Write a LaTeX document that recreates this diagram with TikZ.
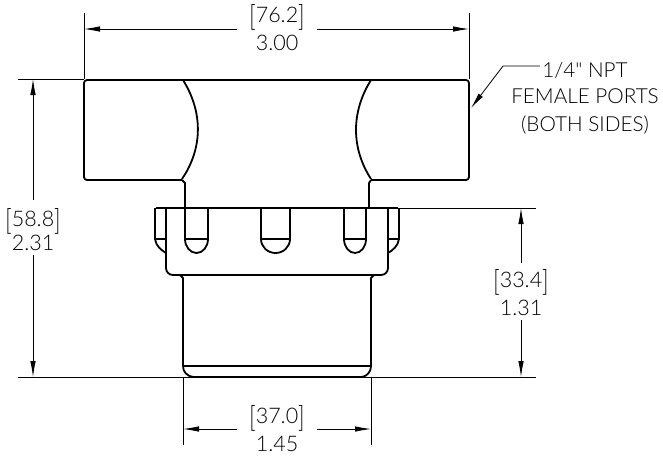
\documentclass[tikz,border=0pt]{standalone}
\usepackage{fontspec}
\setmainfont{Lato}[UprightFont=* Light,Ligatures=TeXOff]
\usetikzlibrary{arrows.meta}
\newcommand{\lbrk}{\raisebox{-0.17em}{\scalebox{1}[1.35]{[}}}
\newcommand{\rbrk}{\raisebox{-0.17em}{\scalebox{1}[1.35]{]}}}
\tikzset{
  part/.style={line width=1.8pt,line join=round},
  thin line/.style={line width=0.8pt},
  dim/.style={thin line,-{Latex[length=16pt,width=5.5pt]}},
  dimtext/.style={font=\fontsize{21.5}{21.5}\selectfont,inner sep=0pt},
  notetext/.style={font=\fontsize{20.7}{20.7}\selectfont,inner sep=0pt}
}
\begin{document}
\begin{tikzpicture}[x=1pt,y=-1pt]
\useasboundingbox (0,0) rectangle (663,456);
\coordinate (TL) at (84,79);
\coordinate (TR) at (469,79);
\coordinate (BL) at (183,377);
\coordinate (BR) at (371,377);
\coordinate (CR) at (398,208);
\coordinate (LD) at (540,66);
\node[dimtext] (wmm) at (277,17) {\lbrk76.2\rbrk};
\node[dimtext] (win) at (277,43) {3.00};
\node[dimtext] (hmm) at (33,221) {\lbrk58.8\rbrk};
\node[dimtext] (hin) at (33,243) {2.31};
\node[dimtext] (cmm) at (521,282) {\lbrk33.4\rbrk};
\node[dimtext] (cin) at (521,308) {1.31};
\node[dimtext] (dmm) at (277,418) {\lbrk37.0\rbrk};
\node[dimtext] (din) at (277,444) {1.45};
\node[notetext] (npt) at (585,70) {1/4" NPT};
\node[notetext] (fem) at (585,96) {FEMALE PORTS};
\node[notetext] (both) at (585,125) {(BOTH SIDES)};
% block
\draw[part,rounded corners=3] (183,80) -- (84,80) -- (84,180) -- (182,180);
\draw[part,rounded corners=3] (371,80) -- (469,80) -- (469,180) -- (371,180);
\draw[part] (183,80) -- (371,80);
\draw[part] (183,80) .. controls (203,112) and (203,148) .. (182,179);
\draw[part] (371,80) .. controls (351,112) and (351,148) .. (371,179);
\draw[part] (182,180) -- (185,183) -- (185,208);
\draw[part] (371,180) -- (369,183) -- (369,208);
% collar
\draw[part] (156,208) -- (398,208);
\draw[part,rounded corners=7] (166,208) -- (166,275) -- (388,275) -- (388,208);
\draw[part] (155,208) -- (155,239) -- (167,239);
\draw[part] (155,239) .. controls (156,246) and (161,250) .. (166,253);
\draw[part] (399,208) -- (399,239) -- (387,239);
\draw[part] (399,239) .. controls (398,246) and (393,250) .. (388,253);
\foreach \xa/\xb in {185/208,261/290,344/366}{
  \draw[part] (\xa,208) -- (\xa,239) arc[start angle=180,end angle=0,x radius={(\xb-\xa)/2},y radius=14] -- (\xb,208);
  \draw[part] (\xa,239) -- (\xb,239);
}
% body
\draw[part] (180,275) -- (183,278) -- (183,366);
\draw[part] (374,275) -- (371,278) -- (371,366);
\draw[part] (183,366) -- (371,366);
\draw[part] (183,366) .. controls (183,372) and (187,376) .. (193,377) -- (362,377) .. controls (367,376) and (371,372) .. (371,366);
\draw[line width=2.4pt] (243,377) -- (312,377);
% extension lines
\draw[thin line] (84,13) -- (TL);
\draw[thin line] (469,13) -- (TR);
\draw[thin line] (18,79) -- (TL);
\draw[thin line] (CR) -- (536,208);
\draw[thin line] (18,377) -- (536,377);
\draw[thin line] (BL) -- (183,445);
\draw[thin line] (BR) -- (371,445);
% dimensions
\draw[dim] (237,29) -- (84,29);
\draw[dim] (317,29) -- (469,29);
\draw[dim] (33,200) -- (33,79);
\draw[dim] (33,255) -- (33,377);
\draw[dim] (521,263) -- (521,208);
\draw[dim] (521,320) -- (521,377);
\draw[dim] (237,429) -- (183,429);
\draw[dim] (317,429) -- (371,429);
\draw[dim] (LD) -- (503,66) -- (471,108);
\end{tikzpicture}
\end{document}
